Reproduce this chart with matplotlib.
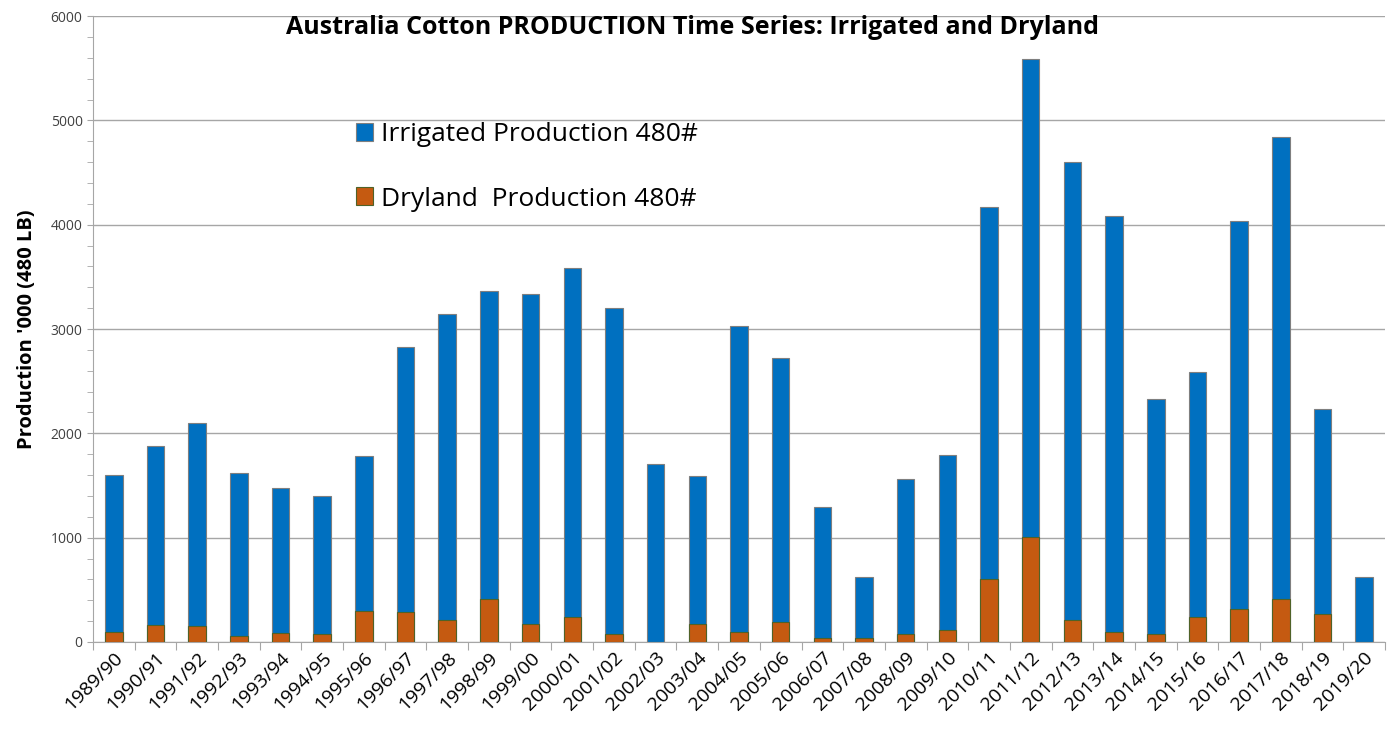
import numpy as np
import matplotlib
matplotlib.use('Agg')
import matplotlib.pyplot as plt
from matplotlib.ticker import MultipleLocator

plt.rcParams['font.family'] = ['Open Sans', 'DejaVu Sans']

seasons = ['1989/90', '1990/91', '1991/92', '1992/93', '1993/94', '1994/95',
           '1995/96', '1996/97', '1997/98', '1998/99', '1999/00', '2000/01',
           '2001/02', '2002/03', '2003/04', '2004/05', '2005/06', '2006/07',
           '2007/08', '2008/09', '2009/10', '2010/11', '2011/12', '2012/13',
           '2013/14', '2014/15', '2015/16', '2016/17', '2017/18', '2018/19',
           '2019/20']
irrigated = [1600, 1880, 2100, 1620, 1475, 1400, 1785, 2825, 3145, 3365,
             3340, 3585, 3200, 1705, 1595, 3025, 2725, 1290, 620, 1560,
             1795, 4170, 5585, 4600, 4085, 2325, 2585, 4040, 4845, 2230, 620]
dryland = [100, 165, 155, 60, 90, 75, 300, 285, 210, 410,
           175, 240, 75, 0, 175, 100, 190, 35, 35, 75,
           110, 600, 1005, 210, 100, 75, 240, 315, 410, 265, 0]

fig = plt.figure(figsize=(13.9, 7.32), dpi=100)
ax = fig.add_axes([0.0669, 0.123, 0.9295, 0.855])

x = np.arange(len(seasons))
ax.bar(x, irrigated, width=0.42, color='#0070C0', edgecolor='#7f7f7f',
       linewidth=0.8, label='Irrigated Production 480#', zorder=3)
ax.bar(x, dryland, width=0.42, color='#C55A11', edgecolor='#4f6228',
       linewidth=0.8, label='Dryland  Production 480#', zorder=4)

ax.set_xlim(-0.5, len(seasons) - 0.5)
ax.set_ylim(0, 6000)
ax.yaxis.set_major_locator(MultipleLocator(1000))
ax.yaxis.set_minor_locator(MultipleLocator(200))
ax.grid(axis='y', which='major', color='#a6a6a6', linewidth=1, zorder=0)

# category ticks sit on boundaries, labels centred under bars
ax.set_xticks(np.arange(len(seasons) + 1) - 0.5)
ax.set_xticklabels([])
ax.set_xticks(x, minor=True)
ax.set_xticklabels(seasons, minor=True, rotation=45, ha='right',
                   rotation_mode='anchor', fontsize=14)
ax.tick_params(axis='x', which='minor', length=0, pad=5)
ax.tick_params(axis='x', which='major', length=6, color='#a6a6a6')
ax.tick_params(axis='y', which='both', length=4, color='#a6a6a6',
               labelsize=10, labelcolor='#404040')

for s in ['top', 'right']:
    ax.spines[s].set_visible(False)
for s in ['left', 'bottom']:
    ax.spines[s].set_color('#a6a6a6')

ax.set_ylabel("Production '000 (480 LB)", fontsize=14.5, fontweight='bold',
              labelpad=10)
fig.text(0.498, 0.962, 'Australia Cotton PRODUCTION Time Series: Irrigated and Dryland',
         ha='center', va='center', fontsize=18, fontweight='bold')

ax.legend(loc='upper left', bbox_to_anchor=(0.185, 0.868), frameon=False,
          fontsize=19, handlelength=0.65, handleheight=0.65,
          handletextpad=0.3, labelspacing=1.48)

fig.savefig('out.png', dpi=100)
